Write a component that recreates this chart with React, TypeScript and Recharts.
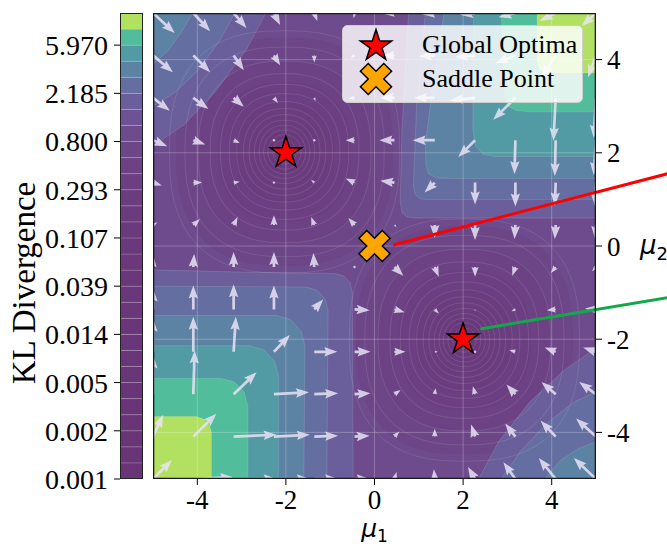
import React from 'react';
import {
  ComposedChart, Scatter, XAxis, YAxis, ReferenceLine,
  Legend, Label, BarChart, Bar,
} from 'recharts';

const SERIF = '"Liberation Serif", "Times New Roman", serif';
const MATH = '"DejaVu Sans", sans-serif';

// quiver sample positions, same on both axes
const GRID = [-5, -4.09, -3.18, -2.27, -1.36, -0.45, 0.45, 1.36, 2.27, 3.18, 4.09, 5];

// arrow components, rows from y=5 (top) down to y=-5
const U = [
  [0.49, 0.38, 0.29, 0.14, 0.07, -0.02, -0.23, -0.29, -0.34, -0.38, -0.36, -0.32],
  [0.45, 0.38, 0.23, 0.14, 0, -0.09, -0.27, -0.36, -0.45, -0.45, -0.32, -0.18],
  [0.38, 0.34, 0.23, 0.09, 0.03, -0.14, -0.32, -0.47, -0.57, -0.5, -0.05, -0.05],
  [0.32, 0.27, 0.14, 0.01, -0.02, -0.2, -0.34, -0.5, -0.38, -0.02, -0.02, -0.05],
  [0.2, 0.2, 0.14, 0, -0.07, -0.2, -0.32, -0.23, 0, 0, -0.02, -0.02],
  [0.1, 0.15, 0.09, 0, -0.07, -0.14, 0.05, 0, 0, -0.02, -0.02, -0.02],
  [0.02, 0.02, 0, 0, -0.02, 0.01, 0.2, 0.09, 0, -0.07, -0.11, -0.09],
  [0, 0, 0, 0, 0.2, 0.34, 0.23, 0.09, 0, -0.09, -0.2, -0.25],
  [0, 0, 0.05, 0.36, 0.52, 0.36, 0.25, 0.07, 0, -0.14, -0.25, -0.29],
  [0, 0.03, 0.52, 0.79, 0.54, 0.36, 0.14, 0.02, -0.05, -0.2, -0.32, -0.38],
  [0.23, 0.52, 0.97, 0.81, 0.54, 0.34, 0.11, 0, -0.09, -0.23, -0.34, -0.45],
  [0.43, 0.9, 0.97, 0.81, 0.54, 0.34, 0.05, -0.02, -0.16, -0.27, -0.38, -0.5],
];
const V = [
  [-0.43, -0.39, -0.32, -0.26, -0.17, -0.11, -0.02, -0.02, -0.04, -0.09, -0.17, -0.28],
  [-0.36, -0.36, -0.32, -0.21, -0.15, -0.06, -0.02, -0.02, -0.04, -0.17, -0.47, -0.47],
  [-0.28, -0.24, -0.19, -0.11, -0.07, -0.02, 0, 0, -0.06, -0.47, -0.92, -0.86],
  [-0.13, -0.09, -0.06, -0.01, 0, 0, 0, 0, -0.36, -0.73, -0.77, -0.75],
  [-0.06, 0, 0.02, 0.02, 0.06, 0.09, 0.04, -0.21, -0.47, -0.51, -0.49, -0.51],
  [0.06, 0.13, 0.17, 0.21, 0.17, 0.15, -0.04, -0.28, -0.32, -0.3, -0.3, -0.3],
  [0.21, 0.28, 0.32, 0.32, 0.3, 0.03, -0.19, -0.21, -0.21, -0.19, -0.13, -0.09],
  [0.45, 0.51, 0.54, 0.51, 0.21, -0.02, -0.06, -0.09, -0.04, -0.04, -0.02, 0.02],
  [0.71, 0.75, 0.75, 0.36, 0, 0, 0, 0, 0, 0.04, 0.09, 0.09],
  [0.83, 0.94, 0.47, 0.04, 0.02, 0.02, 0.09, 0.13, 0.17, 0.21, 0.26, 0.26],
  [0.47, 0.49, 0.04, 0.04, 0.02, 0.02, 0.11, 0.17, 0.26, 0.28, 0.34, 0.39],
  [0.41, 0.04, 0, 0, 0, 0, 0.15, 0.21, 0.26, 0.36, 0.45, 0.45],
];

const X_TICKS = [-4, -2, 0, 2, 4];
const Y_TICKS = [-4, -2, 0, 2, 4];

const OPTIMA = [{ x: -2, y: 2 }, { x: 2, y: -2 }];
const SADDLE = [{ x: 0, y: 0 }];
const RED_SEG = [{ x: 0.42, y: 0.02 }, { x: 6.61, y: 1.55 }];
const GREEN_SEG = [{ x: 2.39, y: -1.78 }, { x: 6.61, y: -1.11 }];

// colorbar: 29 filled levels, labelled every third boundary
const CB_TICK_LABELS = ['0.001', '0.002', '0.005', '0.014', '0.039', '0.107', '0.293', '0.800', '2.185', '5.970'];
const CB_COLORS = [
  '#693577', '#693577', '#693577', '#693577', '#693578', '#693578', '#693678', '#693678',
  '#693679', '#6a3679', '#6a3779', '#6a377a', '#6a387a', '#6a387b', '#6a397b', '#6a3a7c',
  '#6a3b7d', '#6b3d7f', '#6b3f81', '#6c4284', '#6c4687', '#6d4b8c', '#6d5393', '#6a5f9a',
  '#656ea1', '#5c82a4', '#529ba5', '#52bd9a', '#b2e161',
];
const BASE_LEVEL = 21;

// filled contour regions (outline in data units), corners with high divergence
const CORNER_BANDS = [
  // top-left
  { level: 23, pts: [[-5.5, 5.5], [-2.4, 5.5], [-2.45, 5], [-2.9, 4.2], [-3.6, 3.3], [-4.3, 2.6], [-5, 2.15], [-5.5, 1.95]] },
  { level: 24, pts: [[-5.5, 5.5], [-3.15, 5.5], [-3.15, 5], [-3.5, 4.4], [-4.0, 3.75], [-4.5, 3.3], [-5, 3.0], [-5.5, 2.85]] },
  { level: 25, pts: [[-5.5, 5.5], [-4.1, 5.5], [-4.1, 5], [-4.35, 4.6], [-4.65, 4.2], [-5, 3.9], [-5.5, 3.75]] },
  // bottom-right
  { level: 23, pts: [[5.5, -5.5], [2.3, -5.5], [2.35, -5], [2.8, -4.2], [3.5, -3.35], [4.3, -2.65], [5, -2.2], [5.5, -2.0]] },
  { level: 24, pts: [[5.5, -5.5], [2.84, -5.5], [2.86, -5], [3.3, -4.4], [3.9, -3.8], [4.5, -3.35], [5, -3.13], [5.5, -3.0]] },
  { level: 25, pts: [[5.5, -5.5], [3.82, -5.5], [3.84, -5], [4.2, -4.6], [4.6, -4.35], [5, -4.2], [5.5, -4.1]] },
  // bottom-left
  { level: 23, pts: [[-5.5, -0.5], [-3, -0.56], [-0.9, -0.59], [-0.7, -0.64], [-0.55, -0.79], [-0.5, -0.99], [-0.48, -5.5], [-5.5, -5.5]] },
  { level: 24, pts: [[-5.5, -0.86], [-1.55, -0.88], [-1.3, -0.95], [-1.12, -1.13], [-1.05, -1.38], [-1.08, -5.5], [-5.5, -5.5]] },
  { level: 25, pts: [[-5.5, -1.49], [-2.22, -1.49], [-1.9, -1.58], [-1.66, -1.82], [-1.57, -2.14], [-1.6, -5.5], [-5.5, -5.5]] },
  { level: 26, pts: [[-5.5, -2.14], [-2.82, -2.14], [-2.5, -2.23], [-2.26, -2.47], [-2.17, -2.79], [-2.17, -5.5], [-5.5, -5.5]] },
  { level: 27, pts: [[-5.5, -2.84], [-3.46, -2.84], [-3.16, -2.92], [-2.94, -3.14], [-2.86, -3.44], [-2.86, -5.5], [-5.5, -5.5]] },
  { level: 28, pts: [[-5.5, -3.66], [-4.03, -3.66], [-3.86, -3.71], [-3.73, -3.83], [-3.68, -4.01], [-3.68, -5.5], [-5.5, -5.5]] },
  // top-right
  { level: 23, pts: [[0.8, 5.5], [0.62, 2.5], [0.58, 0.95], [0.62, 0.72], [0.72, 0.63], [0.9, 0.6], [5.5, 0.6], [5.5, 5.5]] },
  { level: 24, pts: [[1.2, 5.5], [0.95, 3], [0.88, 1.3], [0.92, 1.1], [1.05, 1.01], [1.2, 1.0], [5.5, 1.0], [5.5, 5.5]] },
  { level: 25, pts: [[1.65, 5.5], [1.3, 3.3], [1.15, 2.2], [1.16, 1.75], [1.22, 1.55], [1.4, 1.46], [1.7, 1.45], [5.5, 1.45], [5.5, 5.5]] },
  { level: 26, pts: [[2.24, 5.5], [2.22, 2.5], [2.28, 2.15], [2.45, 1.97], [2.7, 1.92], [5.5, 1.92], [5.5, 5.5]] },
  { level: 27, pts: [[2.84, 5.5], [2.92, 3.6], [2.95, 3.2], [3.02, 3.0], [3.2, 2.91], [3.5, 2.88], [5.5, 2.88], [5.5, 5.5]] },
  { level: 28, pts: [[3.67, 5.5], [3.67, 4.0], [3.72, 3.8], [3.85, 3.72], [4.05, 3.71], [5.5, 3.71], [5.5, 5.5]] },
];

// the two basins: filled levels and the thin contour lines inside them
const WELL_CENTERS = [[-2.03, 2.02], [2.03, -2.02]];
const WELL_FILLS = [
  { level: 20, r: 2.45 }, { level: 19, r: 1.95 }, { level: 18, r: 1.5 },
  { level: 17, r: 1.1 }, { level: 16, r: 0.75 }, { level: 14, r: 0.45 },
];
const WELL_LINES = [0.14, 0.26, 0.37, 0.47, 0.57, 0.68, 0.8, 0.93, 1.08, 1.25, 1.45, 1.68, 1.95, 2.25, 2.6];

const FRAME = [{ x: -5, y: -5 }, { x: 5, y: -5 }, { x: 5, y: 5 }, { x: -5, y: 5 }];

function ringPts(cx: number, cy: number, r: number) {
  const n = 2 + 0.22 * r;
  const out: { x: number; y: number }[] = [];
  for (let k = 0; k < 56; k++) {
    const t = (k / 56) * Math.PI * 2;
    const c = Math.cos(t), s = Math.sin(t);
    out.push({
      x: cx + r * Math.sign(c) * Math.pow(Math.abs(c), 2 / n),
      y: cy + r * Math.sign(s) * Math.pow(Math.abs(s), 2 / n),
    });
  }
  return out;
}

const toXY = (pts: number[][]) => pts.map(([x, y]) => ({ x, y }));

const ARROW_PTS = U.flatMap((row, r) => row.flatMap((u, c) => {
  const x = GRID[c], y = GRID[GRID.length - 1 - r];
  return [{ x, y }, { x: x + u, y: y + V[r][c] }];
}));

const GRID_PTS = [
  ...X_TICKS.flatMap(t => [{ x: t, y: -5 }, { x: t, y: 5 }]),
  ...Y_TICKS.flatMap(t => [{ x: -5, y: t }, { x: 5, y: t }]),
];

const BACKGROUND = toXY([[-5.5, -5.5], [5.5, -5.5], [5.5, 5.5], [-5.5, 5.5]]);

const noShape = () => <g />;

function pathOf(points: any[], close: boolean) {
  return points.map((p, i) => `${i ? 'L' : 'M'}${p.x.toFixed(2)},${p.y.toFixed(2)}`).join('') + (close ? 'Z' : '');
}

function pairs(points: any[]) {
  const out: any[][] = [];
  for (let i = 0; i + 1 < points.length; i += 2) out.push([points[i], points[i + 1]]);
  return out;
}

const filled = (fill: string, edge = 0.16) => (p: any) => (
  <path d={pathOf(p.points, true)} fill={fill} stroke="#ffffff" strokeOpacity={edge} strokeWidth={edge ? 0.8 : 0} />
);

const ringLine = (p: any) => (
  <path d={pathOf(p.points, true)} fill="none" stroke="#ffffff" strokeOpacity={0.13} strokeWidth={0.8} />
);

const gridLines = (p: any) => (
  <g stroke="#ffffff" strokeOpacity={0.28} strokeWidth={0.9}>
    {pairs(p.points).map(([a, b], i) => <line key={i} x1={a.x} y1={a.y} x2={b.x} y2={b.y} />)}
  </g>
);

const frameLine = (p: any) => (
  <path d={pathOf(p.points, true)} fill="none" stroke="#1a1a1a" strokeWidth={2.6} />
);

// matplotlib-like quiver arrow, pivot at tail
function arrowPath(x0: number, y0: number, x1: number, y1: number) {
  const dx = x1 - x0, dy = y1 - y0;
  const L = Math.hypot(dx, dy);
  if (L < 1.5) {
    return `M${x0 - 1.2},${y0}a1.2,1.2 0 1,0 2.4,0a1.2,1.2 0 1,0 -2.4,0Z`;
  }
  const w = 2.7, hw = 4.7, hl = 13, hal = 11.5;
  let s = 1, len = L;
  if (L < hl) { s = L / hl; len = hl; }
  const ux = dx / L, uy = dy / L;
  const loc = [[0, -w / 2], [len - hal, -w / 2], [len - hl, -hw], [len, 0], [len - hl, hw], [len - hal, w / 2], [0, w / 2]];
  return loc.map(([px, py], i) => {
    const X = x0 + s * (px * ux - py * uy);
    const Y = y0 + s * (px * uy + py * ux);
    return `${i ? 'L' : 'M'}${X.toFixed(2)},${Y.toFixed(2)}`;
  }).join('') + 'Z';
}

const quiver = (p: any) => (
  <g fill="#e9e4f5" fillOpacity={0.84}>
    {pairs(p.points).map(([a, b], i) => <path key={i} d={arrowPath(a.x, a.y, b.x, b.y)} />)}
  </g>
);

function starD(cx: number, cy: number, R: number) {
  const r = R * 0.382;
  let d = '';
  for (let i = 0; i < 10; i++) {
    const ang = -Math.PI / 2 + (i * Math.PI) / 5;
    const rad = i % 2 === 0 ? R : r;
    d += `${i ? 'L' : 'M'}${(cx + rad * Math.cos(ang)).toFixed(2)},${(cy + rad * Math.sin(ang)).toFixed(2)}`;
  }
  return d + 'Z';
}

function xD(cx: number, cy: number, u: number) {
  const plus = [[-1, -3], [1, -3], [1, -1], [3, -1], [3, 1], [1, 1], [1, 3], [-1, 3], [-1, 1], [-3, 1], [-3, -1], [-1, -1]];
  const c = Math.SQRT1_2;
  return plus.map(([px, py], i) => {
    const X = cx + u * (px * c - py * c);
    const Y = cy + u * (px * c + py * c);
    return `${i ? 'L' : 'M'}${X.toFixed(2)},${Y.toFixed(2)}`;
  }).join('') + 'Z';
}

const StarShape = (p: any) => (
  <path d={starD(p.cx, p.cy, 16.5)} fill="#ff0000" stroke="#000" strokeWidth={1.5} />
);
const XShape = (p: any) => (
  <path d={xD(p.cx, p.cy, 5.5)} fill="#ffa500" stroke="#000" strokeWidth={1.5} />
);

const LegendBox = () => (
  <svg width={241} height={78} style={{ display: 'block' }}>
    <rect x={0.5} y={0.5} width={240} height={77} rx={5} fill="#ffffff" fillOpacity={0.82} stroke="#cfcfcf" />
    <path d={starD(34, 21, 16.5)} fill="#ff0000" stroke="#000" strokeWidth={1.5} />
    <path d={xD(34, 54, 5.5)} fill="#ffa500" stroke="#000" strokeWidth={1.5} />
    <text x={80} y={28} fontFamily={SERIF} fontSize={26} fill="#000">Global Optima</text>
    <text x={80} y={62} fontFamily={SERIF} fontSize={26} fill="#000">Saddle Point</text>
  </svg>
);

const MuXLabel = (props: any) => {
  const vb = props.viewBox || { x: 153, y: 479, width: 443, height: 40 };
  return (
    <text x={vb.x + vb.width / 2} y={vb.y + 58} textAnchor="middle" fontFamily={MATH} fontSize={25} fill="#000">
      <tspan fontStyle="italic">μ</tspan>
      <tspan fontSize={17} dy={5}>1</tspan>
    </text>
  );
};

const MuYLabel = (props: any) => {
  const vb = props.viewBox || { x: 596, y: 13, width: 40, height: 466 };
  return (
    <text x={vb.x + 44} y={vb.y + vb.height / 2 + 8} fontFamily={MATH} fontSize={26} fill="#000">
      <tspan fontStyle="italic">μ</tspan>
      <tspan fontSize={18} dy={6}>2</tspan>
    </text>
  );
};

const KLLabel = () => (
  <text x={35} y={283} transform="rotate(-90 35 283)" textAnchor="middle" fontFamily={SERIF} fontSize={33} fill="#000">
    KL Divergence
  </text>
);

// serif tick labels (matplotlib style)
const BottomTick = (p: any) => (
  <text x={p.x} y={p.y} dy="0.71em" textAnchor="middle" fontFamily={SERIF} fontSize={27} fill="#000">
    {String(p.payload.value)}
  </text>
);
const RightTick = (p: any) => (
  <text x={p.x} y={p.y} dy="0.355em" textAnchor="start" fontFamily={SERIF} fontSize={27} fill="#000">
    {String(p.payload.value)}
  </text>
);
const ColorBarTick = (p: any) => (
  <text x={p.x} y={p.y} dy="0.355em" textAnchor="end" fontFamily={SERIF} fontSize={28} fill="#000">
    {CB_TICK_LABELS[Math.round(p.payload.value / 3)]}
  </text>
);

const CB_ROW = CB_COLORS.reduce((row: any, _c, i) => { row[`b${i}`] = 1; return row; }, { name: 'kl' });
const CB_TICKS = CB_TICK_LABELS.map((_, i) => i * 3);

function ColorBar() {
  return (
    <BarChart width={160} height={547} data={[CB_ROW]} margin={{ top: 13, right: 17, bottom: 68, left: 0 }} barCategoryGap={0}>
      <XAxis dataKey="name" hide />
      <YAxis
        type="number"
        domain={[0, 29]}
        ticks={CB_TICKS}
        interval={0}
        width={120}
        tickSize={6}
        tickMargin={6}
        axisLine={false}
        tickLine={{ stroke: '#000' }}
        tick={<ColorBarTick />}
      >
        <Label content={<KLLabel />} />
      </YAxis>
      {CB_COLORS.map((c, i) => (
        <Bar key={i} dataKey={`b${i}`} stackId="cb" fill={c} stroke="#ffffff" strokeOpacity={0.2} strokeWidth={0.7} isAnimationActive={false} />
      ))}
    </BarChart>
  );
}

export default function App() {
  return (
    <div style={{ position: 'relative', width: 667, height: 547, background: '#fff', overflow: 'hidden', fontFamily: SERIF }}>
      <style>{'html,body{margin:0;padding:0;background:#fff}'}</style>
      <div style={{ position: 'absolute', left: 0, top: 0 }}>
        <ColorBar />
      </div>
      <div style={{ position: 'absolute', left: 120, top: 13, width: 23, height: 466, border: '1px solid #222', boxSizing: 'border-box' }} />
      <div style={{ position: 'absolute', left: 0, top: 0 }}>
        <ComposedChart width={667} height={547} margin={{ top: 13, right: 31, bottom: 28, left: 153 }}>
          <XAxis
            type="number" dataKey="x" domain={[-5, 5]} allowDataOverflow ticks={X_TICKS} interval={0}
            height={40} tickSize={6} tickMargin={5} axisLine={false} tickLine={{ stroke: '#000' }}
            tick={<BottomTick />}
          >
            <Label content={<MuXLabel />} />
          </XAxis>
          <YAxis
            type="number" dataKey="y" orientation="right" domain={[-5, 5]} allowDataOverflow ticks={Y_TICKS} interval={0}
            width={40} tickSize={6} tickMargin={5} axisLine={false} tickLine={{ stroke: '#000' }}
            tick={<RightTick />}
          >
            <Label content={<MuYLabel />} />
          </YAxis>
          <Legend layout="horizontal" verticalAlign="middle" align="center" content={<LegendBox />}
            wrapperStyle={{ left: 342, top: 25, width: 241, height: 78 }} />

          {/* parts of the pointer lines that leave the axes */}
          <ReferenceLine segment={RED_SEG} stroke="#ff0000" strokeWidth={3} ifOverflow="visible" />
          <ReferenceLine segment={GREEN_SEG} stroke="#13a84a" strokeWidth={3} ifOverflow="visible" />

          <Scatter data={BACKGROUND} shape={noShape} line={filled(CB_COLORS[BASE_LEVEL], 0)} isAnimationActive={false} legendType="none" />
          {WELL_CENTERS.map(([cx, cy], w) => WELL_FILLS.map(f => (
            <Scatter key={`wf${w}-${f.level}`} data={ringPts(cx, cy, f.r)} shape={noShape}
              line={filled(CB_COLORS[f.level], 0)} isAnimationActive={false} legendType="none" />
          )))}
          {CORNER_BANDS.map((b, i) => (
            <Scatter key={`cb${i}`} data={toXY(b.pts)} shape={noShape} line={filled(CB_COLORS[b.level])}
              isAnimationActive={false} legendType="none" />
          ))}
          {WELL_CENTERS.map(([cx, cy], w) => WELL_LINES.map(r => (
            <Scatter key={`wl${w}-${r}`} data={ringPts(cx, cy, r)} shape={noShape} line={ringLine}
              isAnimationActive={false} legendType="none" />
          )))}
          <Scatter data={GRID_PTS} shape={noShape} line={gridLines} isAnimationActive={false} legendType="none" />
          <Scatter data={ARROW_PTS} shape={noShape} line={quiver} isAnimationActive={false} legendType="none" />

          <Scatter data={RED_SEG} shape={noShape} line={{ stroke: '#ff0000', strokeWidth: 3 }} isAnimationActive={false} legendType="none" />
          <Scatter data={GREEN_SEG} shape={noShape} line={{ stroke: '#13a84a', strokeWidth: 3 }} isAnimationActive={false} legendType="none" />

          <Scatter data={OPTIMA} shape={StarShape} isAnimationActive={false} legendType="none" />
          <Scatter data={SADDLE} shape={XShape} isAnimationActive={false} legendType="none" />

          <Scatter data={FRAME} shape={noShape} line={frameLine} isAnimationActive={false} legendType="none" />
        </ComposedChart>
      </div>
    </div>
  );
}
